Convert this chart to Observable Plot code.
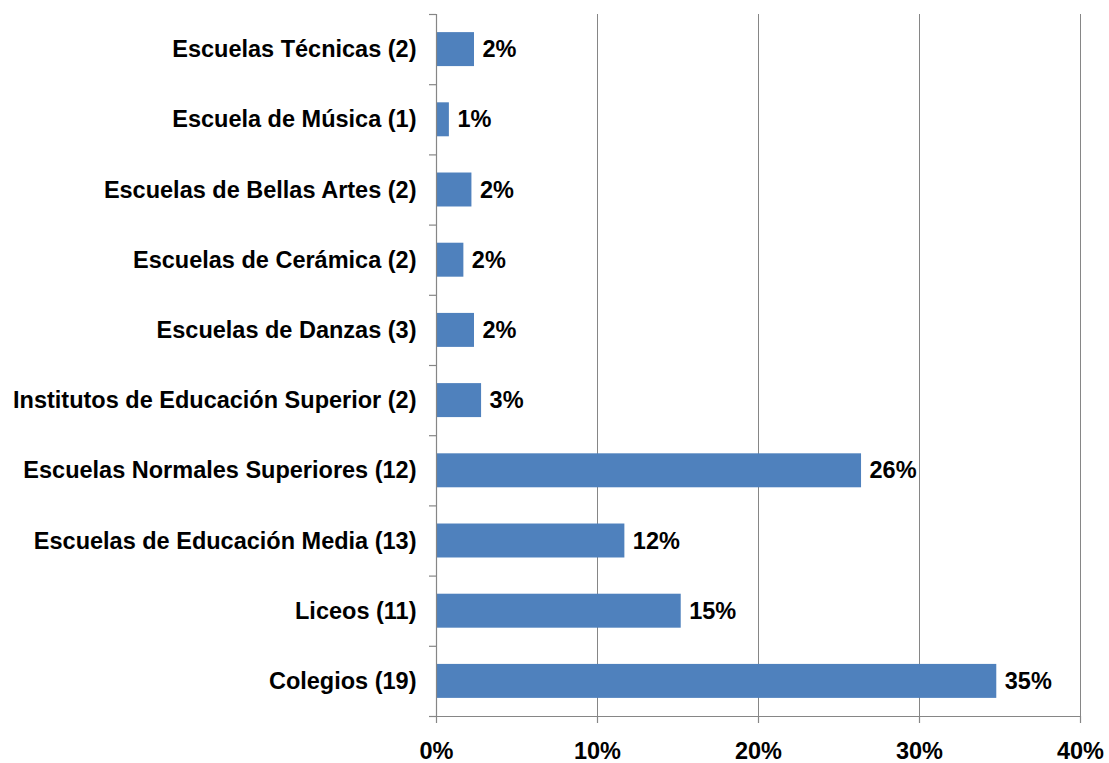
<!DOCTYPE html>
<html>
<head>
<meta charset="utf-8">
<script src="https://cdn.jsdelivr.net/npm/d3@7"></script>
<script src="https://cdn.jsdelivr.net/npm/@observablehq/plot@0.6"></script>
<style>
  html, body { margin: 0; padding: 0; background: #fff; }
  #chart svg { display: block; }
</style>
</head>
<body>
<div id="chart"></div>
<script>
// Categories from top to bottom
const categories = [
  "Escuelas Técnicas (2)",
  "Escuela de Música (1)",
  "Escuelas de Bellas Artes (2)",
  "Escuelas de Cerámica (2)",
  "Escuelas de Danzas (3)",
  "Institutos de Educación Superior (2)",
  "Escuelas Normales Superiores (12)",
  "Escuelas de Educación Media (13)",
  "Liceos (11)",
  "Colegios (19)"
];
const values = [2.36, 0.8, 2.2, 1.7, 2.36, 2.8, 26.4, 11.7, 15.2, 34.8];
const valueLabels = ["2%", "1%", "2%", "2%", "2%", "3%", "26%", "12%", "15%", "35%"];
const xTicks = [0, 10, 20, 30, 40];

const data = categories.map((c, i) => ({cat: c, idx: i, value: values[i], label: valueLabels[i]}));

const FONT = "'Liberation Sans', Arial, sans-serif";
const GRAY = "#868686";
const BLUE = "#4F81BD";
const FS = 23.5;

const chart = Plot.plot({
  width: 1109,
  height: 763,
  marginLeft: 436,
  marginRight: 29,
  marginTop: 14,
  marginBottom: 47,
  style: {fontFamily: FONT, fontWeight: "bold", fontSize: FS + "px", color: "#000", background: "#fff", overflow: "visible"},
  x: {domain: [0, 40], label: null},
  y: {domain: [0, categories.length], reverse: true, label: null},
  marks: [
    // vertical gridlines
    Plot.ruleX(xTicks.slice(1), {y1: 0, y2: categories.length, stroke: GRAY, strokeWidth: 1}),
    // bars
    Plot.rectX(data, {x1: 0, x2: "value", y1: d => d.idx + 0.258, y2: d => d.idx + 0.742, fill: BLUE}),
    // data labels
    Plot.text(data, {x: "value", y: d => d.idx + 0.5, text: "label", textAnchor: "start", dx: 8, fontSize: FS, fontWeight: "bold", fill: "#000"}),
    // y axis line
    Plot.ruleX([0], {y1: 0, y2: categories.length, stroke: GRAY, strokeWidth: 1.2}),
    // y tick marks at band boundaries (no labels)
    Plot.axisY(d3.range(categories.length + 1), {tickSize: 7, tickFormat: () => "", stroke: GRAY, strokeWidth: 1.2, label: null}),
    // y category labels
    Plot.axisY(categories.map((c, i) => i + 0.5), {tickSize: 0, tickPadding: 20, tickFormat: v => categories[Math.floor(v)], fontSize: FS, fontWeight: "bold", fill: "#000", label: null}),
    // x axis baseline
    Plot.ruleY([categories.length], {stroke: GRAY, strokeWidth: 1.2}),
    // x ticks and labels
    Plot.axisX(xTicks, {tickSize: 7, tickPadding: 19, tickFormat: d => d + "%", stroke: GRAY, strokeWidth: 1.2, fontSize: FS, fontWeight: "bold", fill: "#000", label: null})
  ]
});
document.getElementById("chart").appendChild(chart);
</script>
</body>
</html>
